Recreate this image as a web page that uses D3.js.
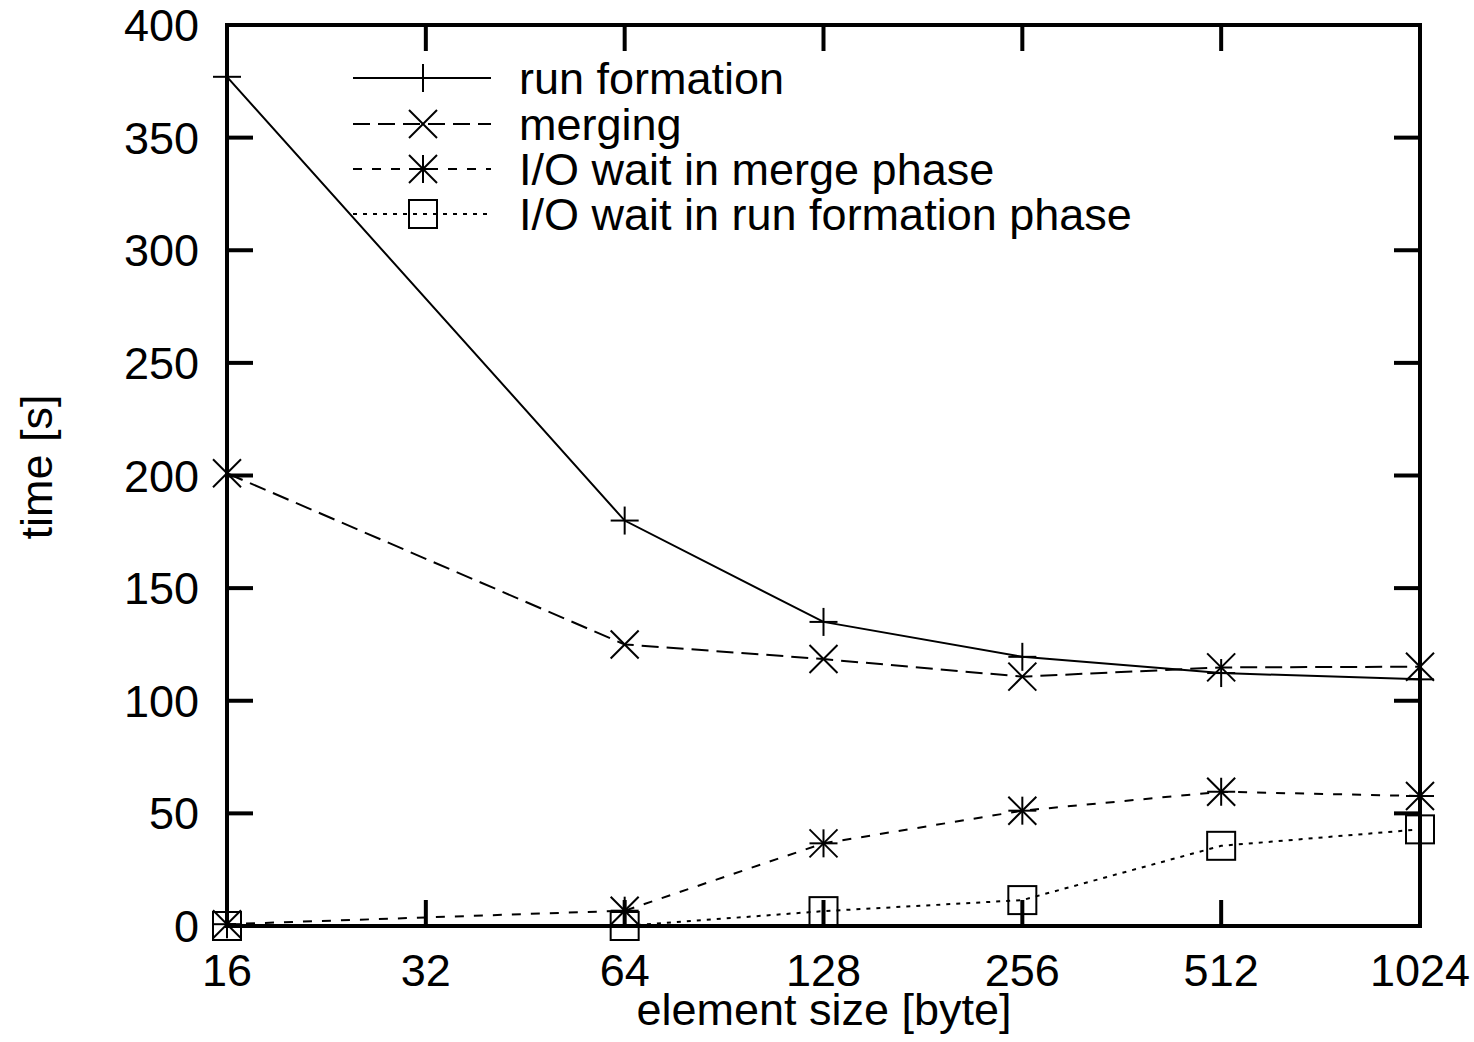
<!DOCTYPE html>
<html>
<head>
<meta charset="utf-8">
<script src="https://cdn.jsdelivr.net/npm/d3@7"></script>
<style>
  html, body { margin: 0; padding: 0; background: #fff; }
  svg text { font-family: "Liberation Sans", Arial, Helvetica, sans-serif; fill: #000; }
</style>
</head>
<body>
<svg id="chart" width="1474" height="1042"></svg>
<script>
const sizes = [16, 64, 128, 256, 512, 1024];
const xTicks = [16, 32, 64, 128, 256, 512, 1024];
const yTicks = [0, 50, 100, 150, 200, 250, 300, 350, 400];
const runFormation = [377, 180, 135, 119.5, 112.3, 109.5];
const merging = [201, 125, 118.5, 110.7, 114.8, 115.1];
const ioWaitMerge = [0.8, 6.8, 36.7, 51.2, 59.6, 57.7];
const ioWaitRun = [0, 0, 6.6, 11.5, 35.6, 42.9];
const seriesNames = ["run formation", "merging", "I/O wait in merge phase", "I/O wait in run formation phase"];

const series = [
  { name: seriesNames[0], values: runFormation, dash: null, marker: "plus" },
  { name: seriesNames[1], values: merging, dash: "17,8", marker: "cross" },
  { name: seriesNames[2], values: ioWaitMerge, dash: "9,10", marker: "star" },
  { name: seriesNames[3], values: ioWaitRun, dash: "4,6", marker: "square" }
];

const svg = d3.select("#chart");
const pLeft = 227, pRight = 1420, pTop = 25, pBottom = 926;
const x = d3.scaleLog().base(2).domain([16, 1024]).range([pLeft, pRight]);
const y = d3.scaleLinear().domain([0, 400]).range([pBottom, pTop]);
const FS = 45;
const tickLen = 26;

// frame
svg.append("rect").attr("x", pLeft).attr("y", pTop).attr("width", pRight - pLeft).attr("height", pBottom - pTop)
  .attr("fill", "none").attr("stroke", "#000").attr("stroke-width", 4);

// y ticks (left and right, inward)
const gy = svg.append("g");
yTicks.forEach(t => {
  gy.append("line").attr("x1", pLeft).attr("x2", pLeft + tickLen).attr("y1", y(t)).attr("y2", y(t))
    .attr("stroke", "#000").attr("stroke-width", 4);
  gy.append("line").attr("x1", pRight).attr("x2", pRight - tickLen).attr("y1", y(t)).attr("y2", y(t))
    .attr("stroke", "#000").attr("stroke-width", 4);
  gy.append("text").attr("x", 199).attr("y", y(t) + 16).attr("text-anchor", "end")
    .attr("font-size", FS).text(t);
});

// x ticks (bottom and top, inward)
const gx = svg.append("g");
xTicks.forEach(t => {
  gx.append("line").attr("x1", x(t)).attr("x2", x(t)).attr("y1", pBottom).attr("y2", pBottom - tickLen)
    .attr("stroke", "#000").attr("stroke-width", 4);
  gx.append("line").attr("x1", x(t)).attr("x2", x(t)).attr("y1", pTop).attr("y2", pTop + tickLen)
    .attr("stroke", "#000").attr("stroke-width", 4);
  gx.append("text").attr("x", x(t)).attr("y", 986).attr("text-anchor", "middle")
    .attr("font-size", FS).text(t);
});

// axis titles
svg.append("text").attr("x", 824).attr("y", 1025).attr("text-anchor", "middle")
  .attr("font-size", FS).text("element size [byte]");
svg.append("text").attr("transform", "translate(52,467) rotate(-90)").attr("text-anchor", "middle")
  .attr("font-size", FS).text("time [s]");

// markers
const H = 14;
function drawMarker(g, type, cx, cy) {
  const s = g.append("g").attr("stroke", "#000").attr("stroke-width", 2).attr("fill", "none");
  if (type === "plus" || type === "star") {
    s.append("line").attr("x1", cx - H).attr("x2", cx + H).attr("y1", cy).attr("y2", cy);
    s.append("line").attr("x1", cx).attr("x2", cx).attr("y1", cy - H).attr("y2", cy + H);
  }
  if (type === "cross" || type === "star") {
    s.append("line").attr("x1", cx - H).attr("x2", cx + H).attr("y1", cy - H).attr("y2", cy + H);
    s.append("line").attr("x1", cx - H).attr("x2", cx + H).attr("y1", cy + H).attr("y2", cy - H);
  }
  if (type === "square") {
    s.append("rect").attr("x", cx - H).attr("y", cy - H).attr("width", 2 * H).attr("height", 2 * H);
  }
}

const line = d3.line().x(d => x(d[0])).y(d => y(d[1]));
const plot = svg.append("g");
series.forEach(s => {
  const pts = sizes.map((v, i) => [v, s.values[i]]);
  plot.append("path").attr("d", line(pts)).attr("fill", "none").attr("stroke", "#000")
    .attr("stroke-width", 2).attr("stroke-dasharray", s.dash);
  pts.forEach(p => drawMarker(plot, s.marker, x(p[0]), y(p[1])));
});

// legend
const legRows = [78, 124, 169, 214];
const lg = svg.append("g");
series.forEach((s, i) => {
  const ry = legRows[i];
  lg.append("line").attr("x1", 353).attr("x2", 491).attr("y1", ry).attr("y2", ry)
    .attr("stroke", "#000").attr("stroke-width", 2).attr("stroke-dasharray", s.dash);
  drawMarker(lg, s.marker, 423, ry);
  lg.append("text").attr("x", 519).attr("y", ry + 16).attr("font-size", FS).text(s.name);
});
</script>
</body>
</html>
